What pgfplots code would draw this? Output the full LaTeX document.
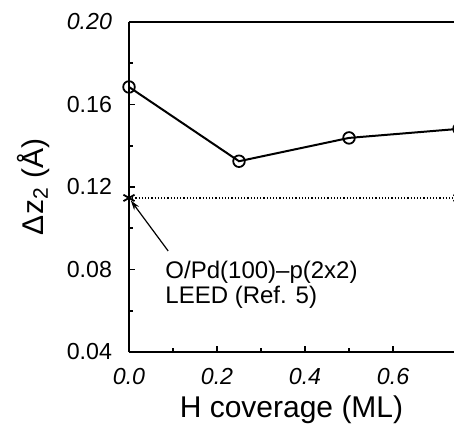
\documentclass[border=0pt]{standalone}
\usepackage{pgfplots}
\pgfplotsset{compat=1.18}
\usepackage{fontspec}
\setmainfont{Liberation Sans}
\usetikzlibrary{arrows.meta}

\begin{document}
\begin{tikzpicture}
\begin{axis}[
    scale only axis,
    width=162.5pt, height=165pt,
    xmin=0, xmax=0.7386,
    ymin=0.04, ymax=0.20,
    axis lines=left,
    axis line style={-, line width=1pt},
    tick align=inside,
    major tick length=3pt,
    minor tick length=2pt,
    tick style={line width=0.8pt, black},
    xtick={0,0.2,0.4,0.6},
    ytick={0.04,0.08,0.12,0.16,0.20},
    yticklabels={0.04,0.08,0.12,0.16,\textit{0.20}},
    minor x tick num=1,
    minor y tick num=1,
    clip=false,
    /pgf/number format/assume math mode=true,
    xticklabel style={font=\fontsize{11.6}{13}\selectfont\itshape, yshift=-4.5pt,
        /pgf/number format/.cd, fixed, fixed zerofill, precision=1},
    yticklabel style={font=\fontsize{11.6}{13}\selectfont, xshift=-5pt},
    xlabel={H coverage (ML)},
    ylabel={Δz\textsubscript{2} (Å)},
    every axis x label/.style={at={(axis description cs:0.5,0)}, anchor=center,
        yshift=-29pt, font=\fontsize{15}{17}\selectfont},
    every axis y label/.style={at={(axis description cs:-0.295,0.5)}, anchor=center,
        rotate=90, font=\fontsize{15}{17}\selectfont},
]
% theory
\addplot[black, line width=1pt, mark=o, mark size=2.9pt,
    mark options={line width=0.9pt}]
    coordinates {(0,0.1685) (0.25,0.1325) (0.5,0.1438) (0.75,0.1482)};
% LEED reference value
\addplot[black, densely dotted, line width=0.6pt, mark=asterisk, mark size=3.2pt,
    mark options={solid, line width=0.9pt}]
    coordinates {(0,0.1147) (0.75,0.1147)};
% top frame line
\draw[line width=1pt] (rel axis cs:0,1) -- (rel axis cs:1,1);
% annotation
\draw[line width=0.6pt, -{Stealth[length=5pt,width=3pt]}]
    (axis cs:0.089,0.089) -- (axis cs:0.004,0.1135);
\node[anchor=west, align=left, inner sep=0pt, font=\fontsize{12}{12.5}\selectfont]
    at (axis cs:0.082,0.0725) {O/Pd(100)–p(2x2)\\LEED (Ref. 5)};
\end{axis}
\pgfresetboundingbox
\path[use as bounding box] (-64.5pt,-39pt) rectangle (162.5pt,176pt);
\end{tikzpicture}
\end{document}
